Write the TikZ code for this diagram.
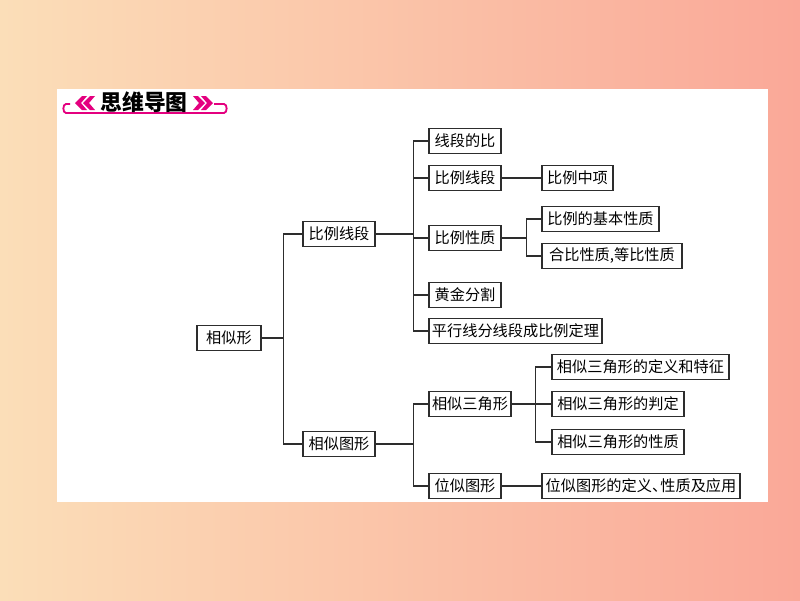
\documentclass[tikz,border=0pt]{standalone}
\usepackage{fontspec}
\newfontfamily\cjk{Noto Sans CJK SC}
\definecolor{bgleft}{RGB}{251,222,184}
\definecolor{bgright}{RGB}{250,168,152}
\definecolor{mag}{RGB}{228,0,127}
\definecolor{ink}{RGB}{45,45,45}

\begin{document}
\begin{tikzpicture}[x=0.025cm,y=-0.025cm,
  box/.style={draw=ink,line width=0.9pt,minimum height=0.625cm,inner sep=0pt,
    font=\cjk\fontsize{10.8}{12}\selectfont},
  link/.style={draw=ink,line width=0.9pt}]
\shade[left color=bgleft,right color=bgright] (0,0) rectangle (800,600);
\fill[white] (57,89) rectangle (768,502);
% title
\draw[mag,line width=1.3pt] (70,104) -- (66,104) to[out=180,in=180] (66,113) -- (224,113)
  to[out=0,in=0] (224,104) -- (214,104);
\fill[mag] (75,103) -- (82,96) -- (87,96) -- (81,103) -- (87,110) -- (82,110) -- cycle;
\fill[mag] (83,103) -- (90,96) -- (95,96) -- (89,103) -- (95,110) -- (90,110) -- cycle;
\fill[mag] (213,103) -- (206,96) -- (201,96) -- (207,103) -- (201,110) -- (206,110) -- cycle;
\fill[mag] (205,103) -- (198,96) -- (193,96) -- (199,103) -- (193,110) -- (198,110) -- cycle;
\node[font=\cjk\bfseries\fontsize{15.5}{18}\selectfont] (title) at (144,102) {思维导图};
% nodes
\node[box,minimum width=1.6cm] (root) at (229,338) {相似形};
\node[box,minimum width=1.8cm] (a) at (339,234) {比例线段};
\node[box,minimum width=1.8cm] (b) at (339,444) {相似图形};
\node[box,minimum width=1.8cm] (a1) at (465,141) {线段的比};
\node[box,minimum width=1.8cm] (a2) at (465,178) {比例线段};
\node[box,minimum width=1.775cm] (a21) at (577.5,178) {比例中项};
\node[box,minimum width=1.8cm] (a3) at (465,238) {比例性质};
\node[box,minimum width=2.925cm] (a31) at (600.5,219) {比例的基本性质};
\node[box,minimum width=3.5cm] (a32) at (612,256) {合比性质,等比性质};
\node[box,minimum width=1.8cm] (a4) at (465,295) {黄金分割};
\node[box,minimum width=4.325cm] (a5) at (515.5,331) {平行线分线段成比例定理};
\node[box,minimum width=2.05cm] (b1) at (470,404) {相似三角形};
\node[box,minimum width=4.425cm] (b11) at (640.5,367) {相似三角形的定义和特征};
\node[box,minimum width=3.3cm] (b12) at (618,404) {相似三角形的判定};
\node[box,minimum width=3.3cm] (b13) at (618,442) {相似三角形的性质};
\node[box,minimum width=1.8cm] (b2) at (465,486) {位似图形};
\node[box,minimum width=4.95cm] (b21) at (641,486) {位似图形的定义、\kern-0.45em性质及应用};
% links
\draw[link] (root.east) -- ++(22,0) |- (a.west);
\draw[link] (root.east) -- ++(22,0) |- (b.west);
\draw[link] (a.east) -- ++(38,0) |- (a1.west);
\draw[link] (a.east) -- ++(38,0) |- (a2.west);
\draw[link] (a.east) -- ++(38,0) |- (a3.west);
\draw[link] (a.east) -- ++(38,0) |- (a4.west);
\draw[link] (a.east) -- ++(38,0) |- (a5.west);
\draw[link] (a2.east) -- (a21.west);
\draw[link] (a3.east) -- ++(25,0) |- (a31.west);
\draw[link] (a3.east) -- ++(25,0) |- (a32.west);
\draw[link] (b.east) -- ++(38,0) |- (b1.west);
\draw[link] (b.east) -- ++(38,0) |- (b2.west);
\draw[link] (b1.east) -- ++(24,0) |- (b11.west);
\draw[link] (b1.east) -- ++(24,0) |- (b12.west);
\draw[link] (b1.east) -- ++(24,0) |- (b13.west);
\draw[link] (b2.east) -- (b21.west);
\end{tikzpicture}
\end{document}
